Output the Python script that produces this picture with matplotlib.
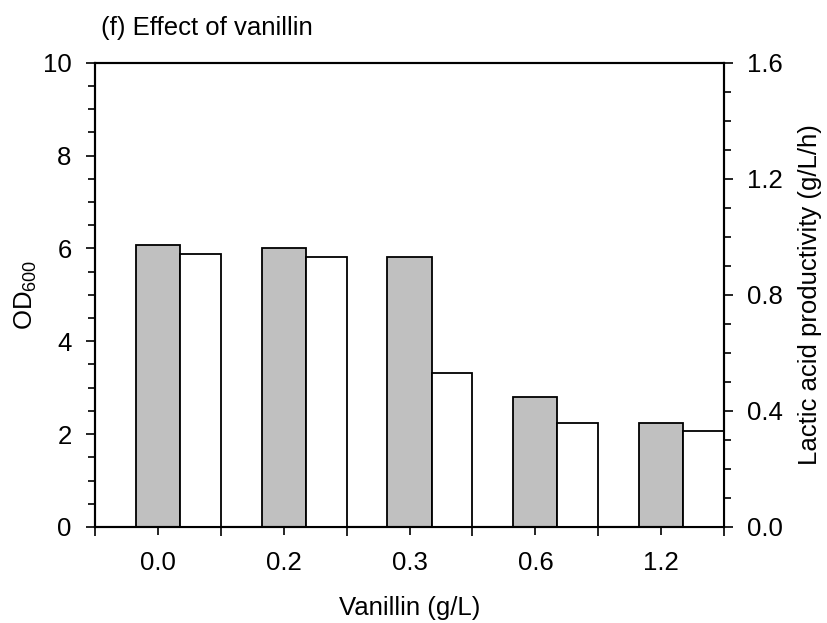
import matplotlib
matplotlib.use('Agg')
import matplotlib.pyplot as plt
import numpy as np

# Vanillin loading and the two responses
vanillin = ['0.0', '0.2', '0.3', '0.6', '1.2']
od600 = [6.07, 6.00, 5.81, 2.80, 2.25]
productivity = [0.94, 0.93, 0.53, 0.36, 0.33]

plt.rcParams['font.family'] = 'Liberation Sans'
plt.rcParams['font.size'] = 18.5
plt.rcParams['mathtext.fontset'] = 'custom'
plt.rcParams['mathtext.rm'] = 'Liberation Sans'

fig = plt.figure(figsize=(8.28, 6.23), dpi=100)
ax = fig.add_axes([0.1144, 0.1541, 0.7604, 0.7453])
ax2 = ax.twinx()

x = np.arange(len(vanillin))

# OD600 bars (left axis) and productivity bars (right axis) side by side
ax.bar(x, od600, width=0.35, color='#c0c0c0', edgecolor='black', linewidth=1.3)
ax2.bar(x + 0.175, productivity, width=0.325, align='edge',
        color='white', edgecolor='black', linewidth=1.3)

ax.set_xlim(-0.5, len(vanillin) - 0.5)
ax.set_ylim(0, 10)
ax2.set_ylim(0, 1.6)

ax.set_xticks(x)
ax.set_xticklabels(vanillin)
ax.set_xticks(np.arange(-0.5, len(vanillin), 1), minor=True)
ax.tick_params(axis='x', which='major', direction='out', length=5.5, width=1.2, pad=12)
ax.tick_params(axis='x', which='minor', direction='out', length=6.7, width=1.2)

ax.set_yticks(np.arange(0, 11, 2))
ax.set_yticks(np.arange(0, 10.01, 0.5), minor=True)
ax.tick_params(axis='y', which='major', direction='out', length=6.7, width=1.2, pad=10)
ax.tick_params(axis='y', which='minor', direction='out', length=5.3, width=1.2)

right_ticks = np.arange(0, 1.61, 0.4)
ax2.set_yticks(right_ticks)
ax2.set_yticklabels([f'{v:.1f}' for v in right_ticks])
ax2.set_yticks(np.arange(0, 1.601, 0.1), minor=True)
ax2.tick_params(axis='y', which='major', direction='out', length=6.7, width=1.2, pad=9.5)
ax2.tick_params(axis='y', which='minor', direction='out', length=5.3, width=1.2)

for a in (ax, ax2):
    for s in a.spines.values():
        s.set_linewidth(1.5)

ax.set_xlabel('Vanillin (g/L)')
ax.xaxis.set_label_coords(0.5, -0.149)
ax.set_ylabel(r'OD$_\mathregular{600}$')
ax.yaxis.set_label_coords(-0.089, 0.5)
ax2.set_ylabel('Lactic acid productivity (g/L/h)')
ax2.yaxis.set_label_coords(1.117, 0.5)

fig.text(0.122, 0.9438, '(f) Effect of vanillin', ha='left', va='baseline')

fig.savefig('out.png', dpi=100)
